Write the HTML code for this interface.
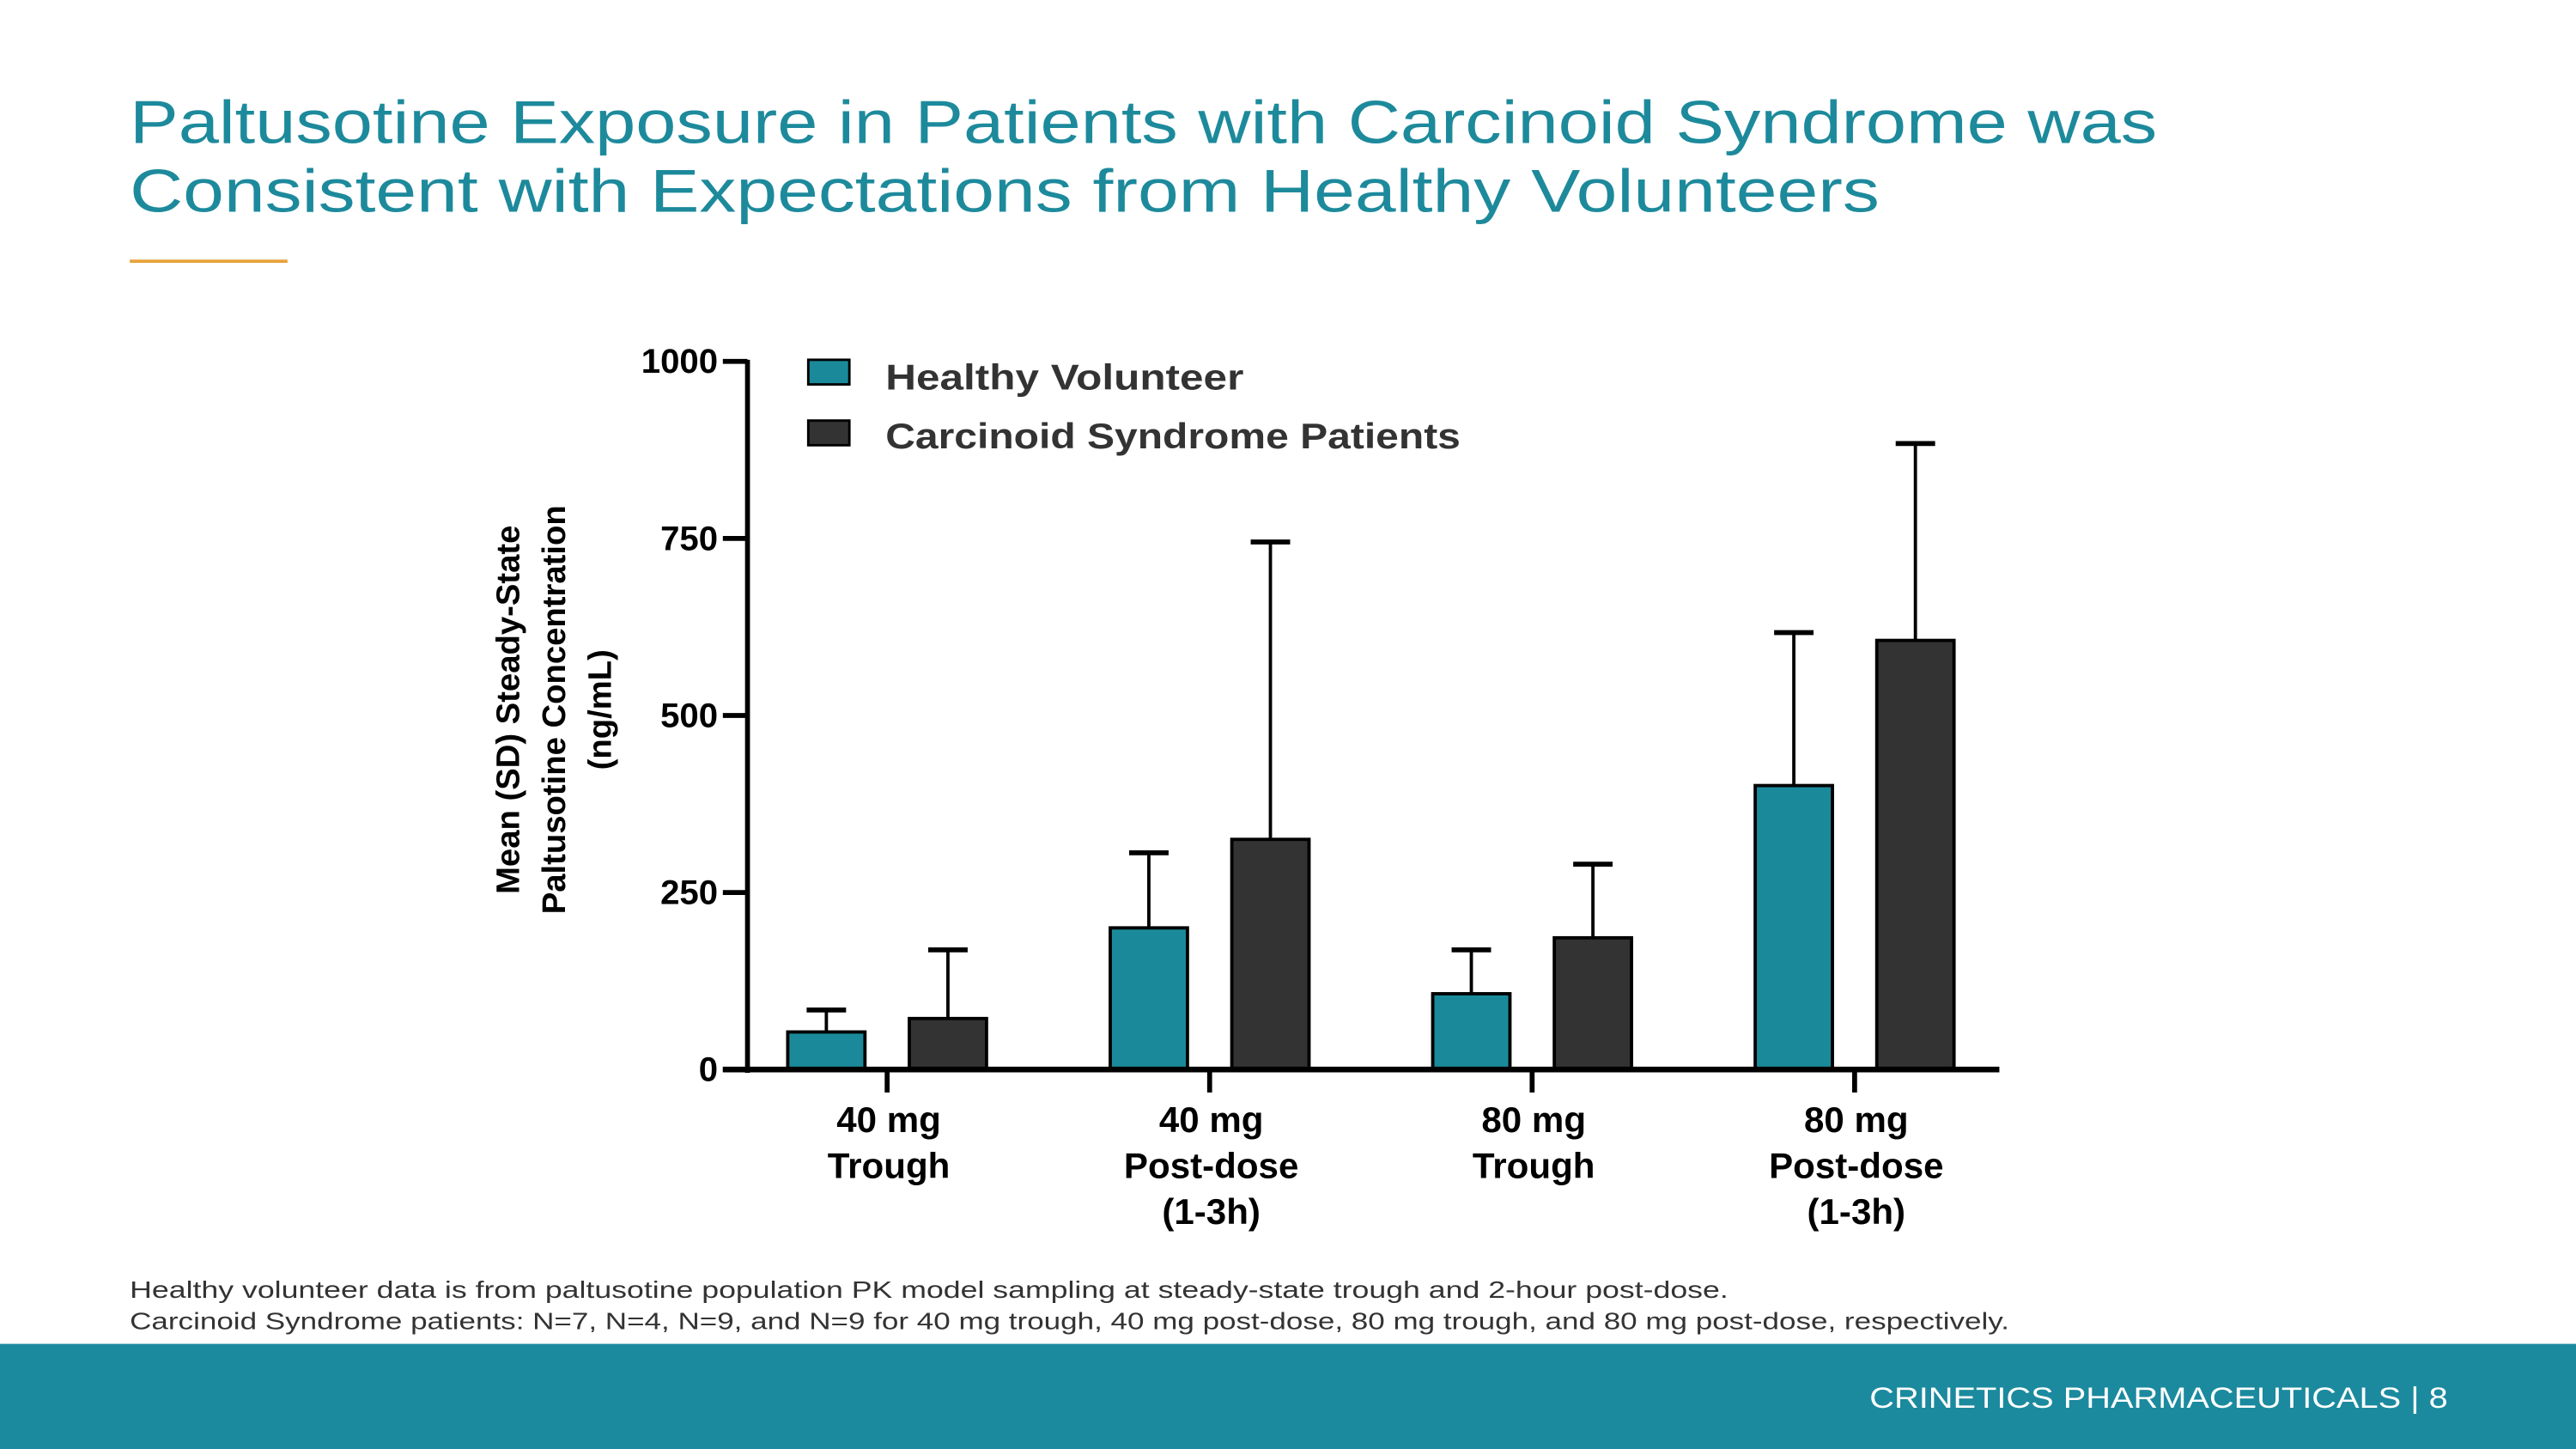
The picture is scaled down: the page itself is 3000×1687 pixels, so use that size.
<!DOCTYPE html>
<html><head><meta charset="utf-8"><style>
html,body{margin:0;padding:0;background:#fff;}
svg{display:block;}
text{font-family:"Liberation Sans",sans-serif;}
</style></head><body>
<svg width="3000" height="1687" viewBox="0 0 1568 882" preserveAspectRatio="none">
<text x="79" y="87" font-size="37" fill="#1d8a9c" textLength="1234" lengthAdjust="spacingAndGlyphs">Paltusotine Exposure in Patients with Carcinoid Syndrome was</text>
<text x="79" y="129" font-size="37" fill="#1d8a9c" textLength="1065" lengthAdjust="spacingAndGlyphs">Consistent with Expectations from Healthy Volunteers</text>
<rect x="79" y="158" width="96" height="2" fill="#e8a33c"/>
<g id="chart"></g>
<text font-size="20" font-weight="bold" fill="#000" text-anchor="middle" transform="translate(338,432) rotate(-90)"><tspan x="0" y="-22">Mean (SD) Steady-State</tspan><tspan x="0" y="6">Paltusotine Concentration</tspan><tspan x="0" y="34">(ng/mL)</tspan></text>
<rect x="492" y="219" width="25" height="15" fill="#1a8a9a" stroke="#000" stroke-width="1.5"/>
<text x="539" y="237" font-size="22" font-weight="bold" fill="#333" textLength="218" lengthAdjust="spacingAndGlyphs">Healthy Volunteer</text>
<rect x="492" y="256" width="25" height="15" fill="#333" stroke="#000" stroke-width="1.5"/>
<text x="539" y="273" font-size="22" font-weight="bold" fill="#333" textLength="350" lengthAdjust="spacingAndGlyphs">Carcinoid Syndrome Patients</text>
<text x="79" y="790" font-size="14.5" fill="#333" textLength="973" lengthAdjust="spacingAndGlyphs">Healthy volunteer data is from paltusotine population PK model sampling at steady-state trough and 2-hour post-dose.</text>
<text x="79" y="809" font-size="14.5" fill="#333" textLength="1144" lengthAdjust="spacingAndGlyphs">Carcinoid Syndrome patients: N=7, N=4, N=9, and N=9 for 40 mg trough, 40 mg post-dose, 80 mg trough, and 80 mg post-dose, respectively.</text>
<rect x="0" y="818" width="1568" height="64" fill="#1b8a9e"/>
<text x="1138" y="857" font-size="18" fill="#fff" textLength="352" lengthAdjust="spacingAndGlyphs">CRINETICS PHARMACEUTICALS  |  8</text>
</svg>
<script>
const categories=[["40 mg","Trough"],["40 mg","Post-dose","(1-3h)"],["80 mg","Trough"],["80 mg","Post-dose","(1-3h)"]];
const healthyMean=[53,200,107,401];
const healthyUpper=[84,306,169,617];
const carcinoidMean=[72,325,186,606];
const carcinoidUpper=[169,745,290,884];
const yTicks=[0,250,500,750,1000];
const NS="http://www.w3.org/2000/svg";
const g=document.getElementById('chart');
const y0=651,yTop=220,yMax=1000;
const y=v=>y0-(v/yMax)*(y0-yTop);
const xc=i=>540+i*196.3;
function mk(t,a){const e=document.createElementNS(NS,t);for(const k in a)e.setAttribute(k,a[k]);g.appendChild(e);return e;}
yTicks.forEach(v=>{
 const l=mk('line',{x1:440,x2:455,y1:y(v),y2:y(v),stroke:'#000','stroke-width':3});
 
 
 const t=mk('text',{x:437,y:y(v)+7,'font-size':21,'font-weight':'bold','text-anchor':'end',fill:'#000'});
 t.textContent=v;
 
 
});
function bar(cx,m,u,fill,name){
 const w=47;
 const eb=mk('line',{x1:cx,x2:cx,y1:y(m),y2:y(u),stroke:'#000','stroke-width':2});
 
 
 const cap=mk('line',{x1:cx-12,x2:cx+12,y1:y(u),y2:y(u),stroke:'#000','stroke-width':3});
 
 
 const r=mk('rect',{x:cx-w/2,y:y(m),width:w,height:y0-y(m),fill:fill,stroke:'#000','stroke-width':2});
 
 
}
categories.forEach((c,i)=>{
 bar(xc(i)-37,healthyMean[i],healthyUpper[i],'#1a8a9a','bar-healthy-'+i);
 bar(xc(i)+37,carcinoidMean[i],carcinoidUpper[i],'#333333','bar-carcinoid-'+i);
 const tk=mk('line',{x1:xc(i),x2:xc(i),y1:y0,y2:y0+14,stroke:'#000','stroke-width':3});
 
 
 const t=mk('text',{x:xc(i)+1,'font-size':22,'font-weight':'bold','text-anchor':'middle',fill:'#000'});
 
 
 c.forEach((s,j)=>{const ts=document.createElementNS(NS,'tspan');ts.setAttribute('x',xc(i)+1);ts.setAttribute('y',689+j*28);ts.textContent=s;t.appendChild(ts);});
});
const ya=mk('line',{x1:455,x2:455,y1:yTop-1,y2:y0+2,stroke:'#000','stroke-width':3});


const xa=mk('line',{x1:440,x2:1217,y1:y0,y2:y0,stroke:'#000','stroke-width':3.5});


</script>
</body></html>
